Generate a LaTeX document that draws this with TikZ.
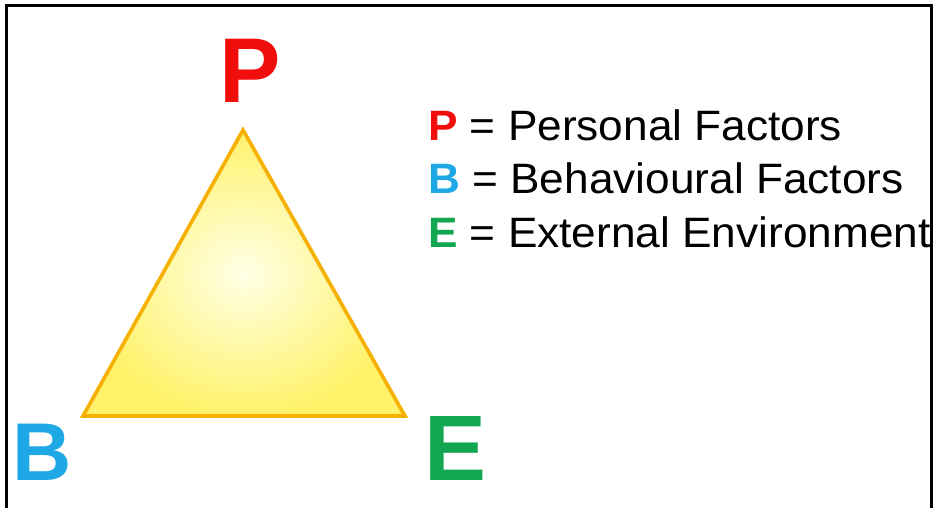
\documentclass[tikz,border=0pt]{standalone}
\usepackage{fontspec}
\setmainfont{Liberation Sans}
\newfontfamily\legendfont[FakeStretch=1.04]{Liberation Sans}
\definecolor{pred}{HTML}{F20D0D}
\definecolor{bblue}{HTML}{1FA8E6}
\definecolor{egreen}{HTML}{12A650}
\definecolor{triedge}{HTML}{F5B000}
\definecolor{triout}{HTML}{FFF26A}
\definecolor{triin}{HTML}{FFFFE6}
\begin{document}
\begin{tikzpicture}[x=1pt,y=-1pt,
  bigletter/.style={inner sep=0pt,anchor=base west,font=\bfseries},
  legend/.style={inner sep=0pt,anchor=base west,font=\legendfont\fontsize{42.5}{48}\selectfont},
  frame/.style={line width=3.5pt,black}]
\useasboundingbox (0,0) rectangle (934,508);
\fill[white] (0,0) rectangle (934,508);
\coordinate (tp) at (243,130);
\coordinate (tb) at (83,416);
\coordinate (te) at (405,416);
\shade[inner color=triin,outer color=triout] (tp) -- (tb) -- (te) -- cycle;
\draw[triedge,line width=3.6pt,line join=miter] (tp) -- (tb) -- (te) -- cycle;
\node[bigletter,text=pred,font=\bfseries\fontsize{92}{100}\selectfont] (P) at (219,103) {P};
\node[bigletter,text=bblue,font=\bfseries\fontsize{82}{90}\selectfont] (B) at (12,480) {B};
\node[bigletter,text=egreen,font=\bfseries\fontsize{93}{100}\selectfont] (E) at (424,480) {E};
\node[legend] (lp) at (428,140) {\textbf{\color{pred}P} = Personal Factors};
\node[legend] (lb) at (428,193) {\textbf{\color{bblue}B} = Behavioural Factors};
\node[legend] (le) at (428,247) {\textbf{\color{egreen}E} = External Environment};
\fill[white] (933.5,0) rectangle (934,508);
\draw[frame] (6.5,508) -- (6.5,5.5) -- (931.5,5.5) -- (931.5,508);
\end{tikzpicture}
\end{document}
